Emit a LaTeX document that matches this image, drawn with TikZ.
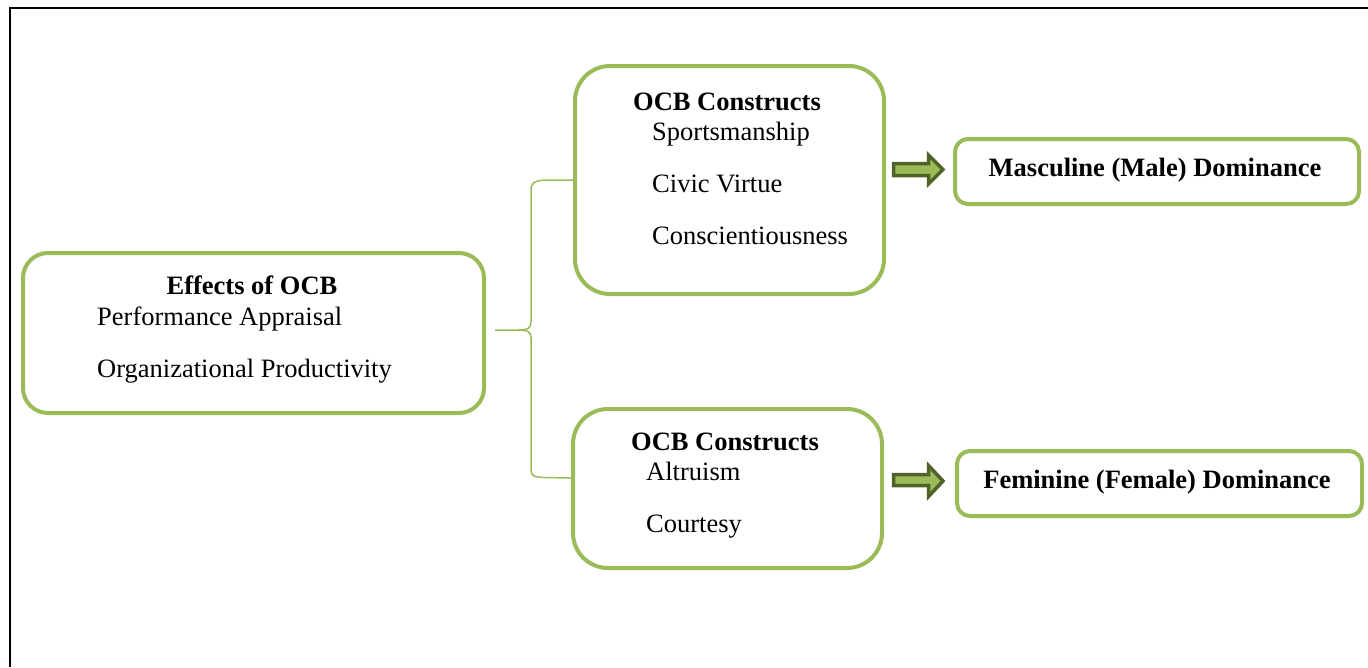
\documentclass[tikz,border=0pt]{standalone}
\usepackage{fontspec}
\setmainfont{Liberation Serif}
\definecolor{ocbgreen}{HTML}{9BBB59}
\definecolor{ocbdark}{HTML}{4F6228}
\begin{document}
\begin{tikzpicture}[x=1pt,y=-1pt,
  gbox/.style={draw=ocbgreen,line width=4pt,rounded corners=#1,inner sep=0pt,anchor=north west},
  gbox/.default=28pt,
  lbl/.style={font=\fontsize{26.5}{30}\selectfont,inner sep=0pt,anchor=base west},
  ttl/.style={font=\fontsize{26.5}{30}\selectfont\bfseries,inner sep=0pt,anchor=base},
  brace/.style={draw=ocbgreen,line width=1.5pt},
  blockarrow/.style={fill=ocbgreen,draw=ocbdark,line width=3.5pt,line join=miter}]
\useasboundingbox (0,0) rectangle (1368,667);
\draw[line width=2.2pt] (1368,8) -- (10,8) -- (10,667);
% boxes
\node[gbox=25pt,minimum width=461pt,minimum height=160pt] (eff) at (21,251) {};
\node[gbox=35pt,minimum width=309pt,minimum height=228pt] (c1) at (573,64) {};
\node[gbox=35pt,minimum width=309pt,minimum height=159pt] (c2) at (571,407) {};
\node[gbox=13pt,minimum width=404pt,minimum height=65pt] (m) at (953,137) {};
\node[gbox=13pt,minimum width=405pt,minimum height=65pt] (f) at (955,449) {};
% texts
\node[ttl] (t0) at (252,294) {Effects of OCB};
\node[lbl] (t1) at (97,325) {Performance Appraisal};
\node[lbl] (t2) at (97,377) {Organizational Productivity};
\node[ttl] (t3) at (727,110) {OCB Constructs};
\node[lbl] (t4) at (652,140) {Sportsmanship};
\node[lbl] (t5) at (652,192) {Civic Virtue};
\node[lbl] (t6) at (652,244) {Conscientiousness};
\node[ttl] (t7) at (725,450) {OCB Constructs};
\node[lbl] (t8) at (646,480) {Altruism};
\node[lbl] (t9) at (646,532) {Courtesy};
\node[ttl] (t10) at (1155,176) {Masculine (Male) Dominance};
\node[ttl] (t11) at (1157,488) {Feminine (Female) Dominance};
% brace
\coordinate (bm) at (eff.east |- 0,330);
\coordinate (bt) at (c1.west |- 0,180);
\coordinate (bb) at (c2.west |- 0,478);
\draw[brace] ([xshift=9pt]bm) -- (518,330) .. controls (528,330) and (531,328) .. (531,322)
  -- (531,190) .. controls (531,183) and (534,181) .. (545,180) -- (bt);
\draw[brace] (518,330) .. controls (528,330) and (531,332) .. (531,338)
  -- (531,470) .. controls (531,476) and (534,477) .. (545,477.5) -- (bb);
% block arrows
\path[blockarrow] (893.5,163.5) -- (928.5,163.5) -- (928.5,155) -- (943,169.5) -- (928.5,184) -- (928.5,175.5) -- (893.5,175.5) -- cycle;
\path[blockarrow] (893.5,474.5) -- (928.5,474.5) -- (928.5,465.5) -- (943,481) -- (928.5,496.5) -- (928.5,485.5) -- (893.5,485.5) -- cycle;
\end{tikzpicture}
\end{document}
